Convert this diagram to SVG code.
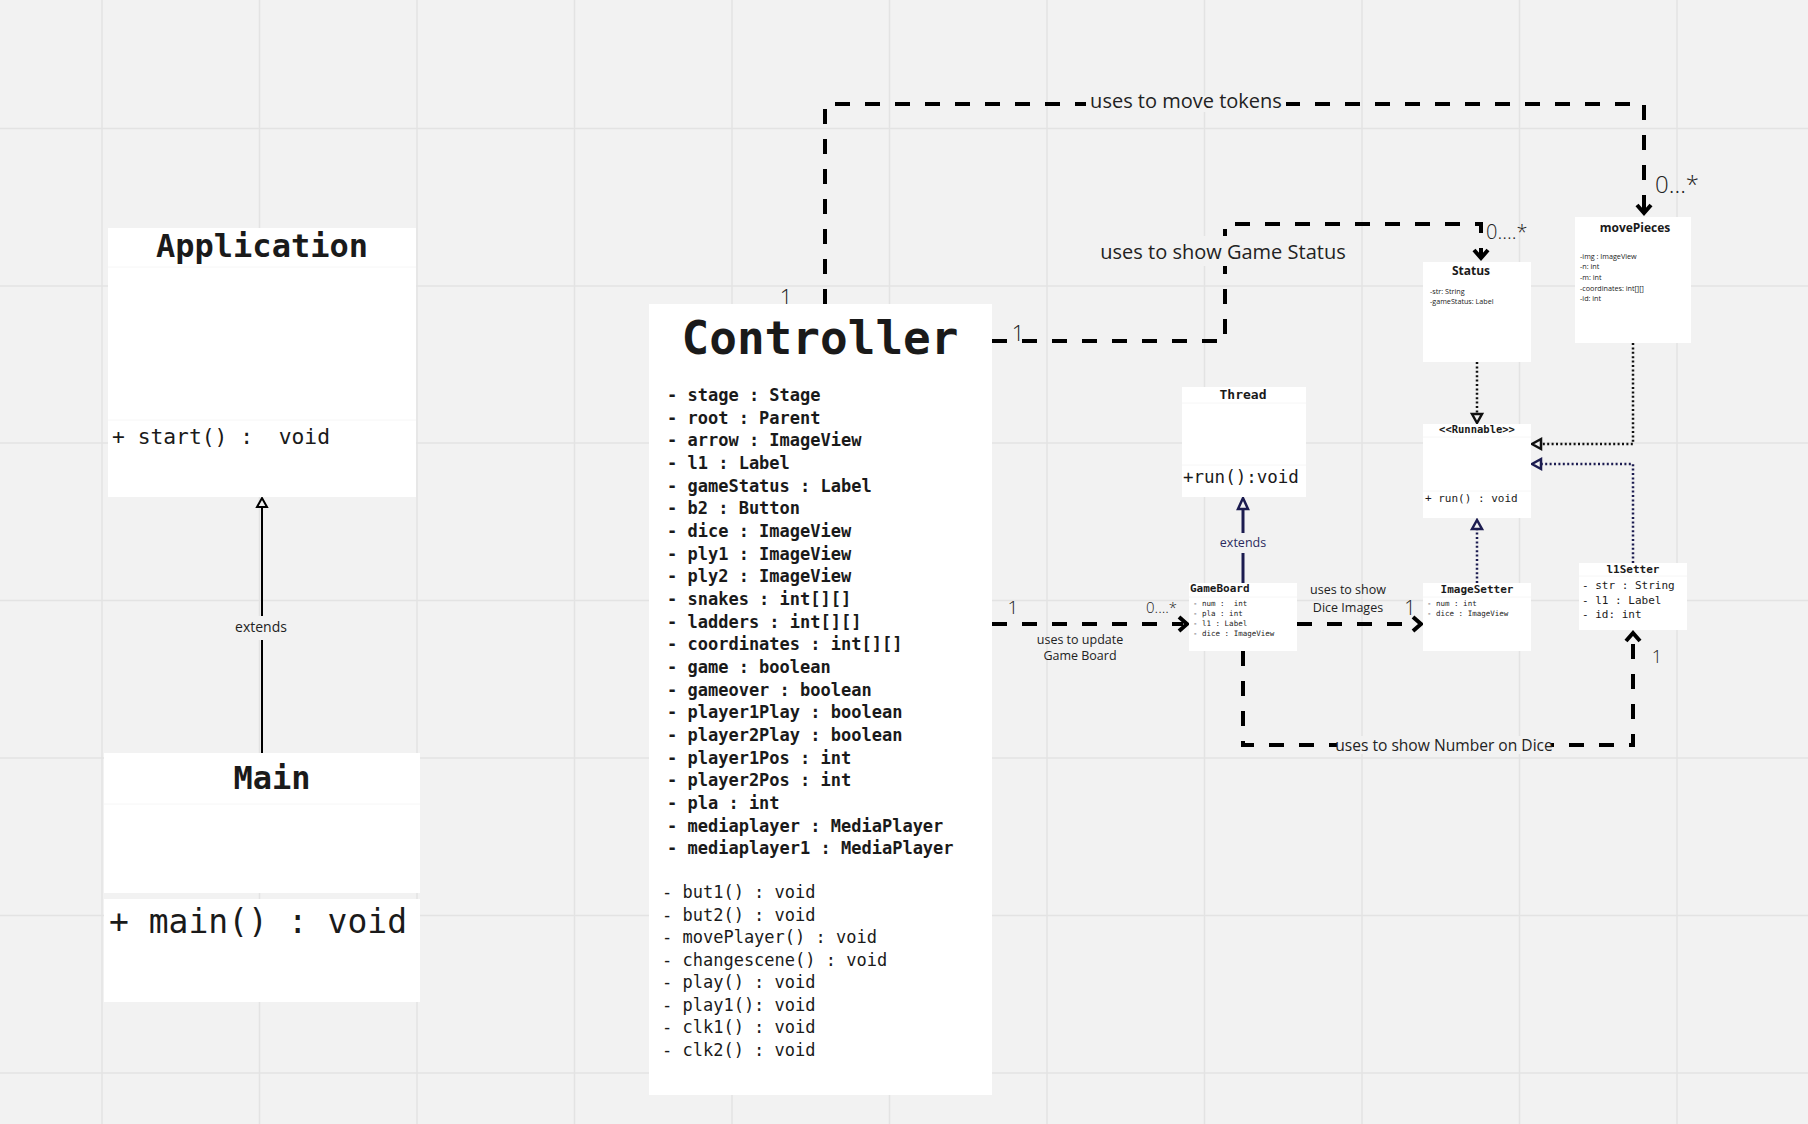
<svg xmlns="http://www.w3.org/2000/svg" width="1808" height="1124" viewBox="0 0 1808 1124">
<style>
.grid{stroke:#e3e3e3;stroke-width:1.5}
.box{fill:#ffffff}
.div{stroke:#f6f6f6;stroke-width:1}
.mono{font-family:"DejaVu Sans Mono","Liberation Mono",monospace;fill:#1a1a1a;white-space:pre}
.monob{font-family:"DejaVu Sans Mono","Liberation Mono",monospace;font-weight:bold;fill:#1a1a1a;white-space:pre}
.sans{font-family:"Open Sans","Noto Sans",sans-serif;fill:#1a1a1a}
.sansb{font-family:"Open Sans","Noto Sans",sans-serif;font-weight:bold;fill:#1a1a1a}
.dash{fill:none;stroke:#000;stroke-width:4;stroke-dasharray:15 15}
.head{fill:none;stroke:#000;stroke-width:4;stroke-linejoin:miter}
.dotk{fill:none;stroke:#111;stroke-width:2.5;stroke-dasharray:2 2.4}
.dotn{fill:none;stroke:#1c1c50;stroke-width:2.5;stroke-dasharray:2 2.4}
.lbl{font-family:"Open Sans","Noto Sans",sans-serif;fill:#222}
.bg{fill:#f2f2f2}
</style>
<rect x="0" y="0" width="1808" height="1124" fill="#f2f2f2"/>
<g id="grid">
<path class="grid" d="M102 0V1124M259.5 0V1124M417 0V1124M574.5 0V1124M732 0V1124M889.5 0V1124M1047 0V1124M1204.5 0V1124M1362 0V1124M1519.5 0V1124M1677 0V1124M0 128.5H1808M0 286H1808M0 443H1808M0 600.5H1808M0 758H1808M0 915.5H1808M0 1073H1808"/>
</g>

<g id="connectors">
<!-- Main extends Application -->
<path d="M262 753V507" stroke="#000" stroke-width="2" fill="none"/>
<path d="M257 507L262 498L267 507Z" fill="#f2f2f2" stroke="#000" stroke-width="2"/>
<rect class="bg" x="230" y="616" width="64" height="24"/>
<text class="lbl" x="261" y="632" font-size="14" text-anchor="middle">extends</text>

<!-- GameBoard extends Thread -->
<path d="M1243 583V509" stroke="#1c1c50" stroke-width="3" fill="none"/>
<path d="M1238 509L1243 498L1248 509Z" fill="#f2f2f2" stroke="#1c1c50" stroke-width="2.5"/>
<rect class="bg" x="1218" y="533" width="50" height="20"/>
<text x="1243" y="547" font-size="12.5" text-anchor="middle" font-family="Open Sans, Noto Sans, sans-serif" fill="#2a2a5e">extends</text>

<!-- uses to move tokens -->
<path class="dash" d="M825 304V104H1644V212"/>
<path class="head" d="M1637 205L1644 213L1651 205"/>
<rect class="bg" x="1086" y="96" width="200" height="16"/>
<text class="lbl" x="1186" y="108" font-size="20" text-anchor="middle">uses to move tokens</text>
<text class="lbl" x="786" y="305" font-size="22" text-anchor="middle" font-weight="300">1</text>
<text class="lbl" x="1655" y="193" font-size="24" font-weight="300">0...*</text>

<!-- uses to show Game Status -->
<path class="dash" d="M992 341H1225V224H1481V257"/>
<path class="head" d="M1474 250L1481 258L1488 250"/>
<rect class="bg" x="1100" y="236" width="248" height="30"/>
<text class="lbl" x="1223" y="259" font-size="20" text-anchor="middle">uses to show Game Status</text>
<text class="lbl" x="1018" y="341" font-size="22" text-anchor="middle" font-weight="300">1</text>
<text class="lbl" x="1486" y="239" font-size="20" font-weight="300">0....*</text>

<!-- uses to update Game Board -->
<path class="dash" d="M992 624H1183"/>
<path class="head" d="M1179 617L1187 624L1179 631"/>
<text class="lbl" x="1080" y="644" font-size="12.5" text-anchor="middle">uses to update</text>
<text class="lbl" x="1080" y="660" font-size="12.5" text-anchor="middle">Game Board</text>
<text class="lbl" x="1013" y="614" font-size="19" text-anchor="middle" font-weight="300">1</text>
<text class="lbl" x="1146" y="613" font-size="15" font-weight="300">0....*</text>

<!-- uses to show Dice Images -->
<path class="dash" d="M1297 624H1417"/>
<path class="head" d="M1413 617L1421 624L1413 631"/>
<text class="lbl" x="1348" y="594" font-size="12.5" text-anchor="middle">uses to show</text>
<text class="lbl" x="1348" y="612" font-size="12.5" text-anchor="middle">Dice Images</text>
<text class="lbl" x="1410" y="615" font-size="20" text-anchor="middle" font-weight="300">1</text>

<!-- uses to show Number on Dice -->
<path class="dash" d="M1243 651V745H1633V636"/>
<path class="head" d="M1626 641L1633 633L1640 641"/>
<rect class="bg" x="1337" y="736" width="214" height="18"/>
<text class="lbl" x="1444" y="751" font-size="15.6" text-anchor="middle">uses to show Number on Dice</text>
<text class="lbl" x="1657" y="663" font-size="18" text-anchor="middle" font-weight="300">1</text>

<!-- Status implements Runnable -->
<path class="dotk" d="M1477 362V414"/>
<path d="M1472 414L1477 423L1482 414Z" fill="#f2f2f2" stroke="#111" stroke-width="2.5"/>
<!-- ImageSetter implements Runnable -->
<path class="dotn" d="M1477 583V529"/>
<path d="M1472 529L1477 520L1482 529Z" fill="#f2f2f2" stroke="#1c1c50" stroke-width="2.5"/>
<!-- movePieces implements Runnable -->
<path class="dotk" d="M1633 343V444H1541"/>
<path d="M1541 439L1532 444L1541 449Z" fill="#f2f2f2" stroke="#111" stroke-width="2.5"/>
<!-- l1Setter implements Runnable -->
<path class="dotn" d="M1633 563V464H1541"/>
<path d="M1541 459L1532 464L1541 469Z" fill="#f2f2f2" stroke="#1c1c50" stroke-width="2.5"/>
</g>

<g id="Application">
<rect class="box" x="108" y="228" width="308" height="269"/>
<line class="div" x1="108" y1="267" x2="416" y2="267"/>
<line class="div" x1="108" y1="420" x2="416" y2="420"/>
<text class="monob" x="262" y="257" font-size="32" text-anchor="middle">Application</text>
<text class="mono" x="112" y="444" font-size="21.3">+ start() :  void</text>
</g>

<g id="Main">
<rect class="box" x="104" y="753" width="316" height="140"/>
<line class="div" x1="104" y1="804" x2="420" y2="804"/>
<rect class="box" x="104" y="899" width="316" height="103"/>
<text class="monob" x="272" y="789" font-size="32" text-anchor="middle">Main</text>
<text class="mono" x="109" y="933" font-size="33">+ main() : void</text>
</g>

<g id="Controller">
<rect class="box" x="649" y="304" width="343" height="791"/>
<text class="monob" x="820" y="354" font-size="46" text-anchor="middle">Controller</text>
<text class="monob" font-size="17">
<tspan x="667" y="401">- stage : Stage</tspan>
<tspan x="667" dy="22.66">- root : Parent</tspan>
<tspan x="667" dy="22.66">- arrow : ImageView</tspan>
<tspan x="667" dy="22.66">- l1 : Label</tspan>
<tspan x="667" dy="22.66">- gameStatus : Label</tspan>
<tspan x="667" dy="22.66">- b2 : Button</tspan>
<tspan x="667" dy="22.66">- dice : ImageView</tspan>
<tspan x="667" dy="22.66">- ply1 : ImageView</tspan>
<tspan x="667" dy="22.66">- ply2 : ImageView</tspan>
<tspan x="667" dy="22.66">- snakes : int[][]</tspan>
<tspan x="667" dy="22.66">- ladders : int[][]</tspan>
<tspan x="667" dy="22.66">- coordinates : int[][]</tspan>
<tspan x="667" dy="22.66">- game : boolean</tspan>
<tspan x="667" dy="22.66">- gameover : boolean</tspan>
<tspan x="667" dy="22.66">- player1Play : boolean</tspan>
<tspan x="667" dy="22.66">- player2Play : boolean</tspan>
<tspan x="667" dy="22.66">- player1Pos : int</tspan>
<tspan x="667" dy="22.66">- player2Pos : int</tspan>
<tspan x="667" dy="22.66">- pla : int</tspan>
<tspan x="667" dy="22.66">- mediaplayer : MediaPlayer</tspan>
<tspan x="667" dy="22.66">- mediaplayer1 : MediaPlayer</tspan>
</text>
<text class="mono" font-size="17" fill="#2a2a2a">
<tspan x="662" y="898">- but1() : void</tspan>
<tspan x="662" dy="22.5">- but2() : void</tspan>
<tspan x="662" dy="22.5">- movePlayer() : void</tspan>
<tspan x="662" dy="22.5">- changescene() : void</tspan>
<tspan x="662" dy="22.5">- play() : void</tspan>
<tspan x="662" dy="22.5">- play1(): void</tspan>
<tspan x="662" dy="22.5">- clk1() : void</tspan>
<tspan x="662" dy="22.5">- clk2() : void</tspan>
</text>
</g>

<g id="Thread">
<rect class="box" x="1182" y="387" width="124" height="110"/>
<line class="div" x1="1182" y1="403" x2="1306" y2="403"/>
<line class="div" x1="1182" y1="465" x2="1306" y2="465"/>
<text class="monob" x="1243" y="399" font-size="13" text-anchor="middle">Thread</text>
<text class="mono" x="1183" y="483" font-size="17.5">+run():void</text>
</g>

<g id="GameBoard">
<rect class="box" x="1189" y="583" width="108" height="68"/>
<line class="div" x1="1189" y1="597" x2="1297" y2="597"/>
<text class="monob" x="1190" y="592" font-size="11">GameBoard</text>
<text class="mono" font-size="7.5" fill="#333">
<tspan x="1193" y="606">- num :  int</tspan>
<tspan x="1193" y="616">- pla : int</tspan>
<tspan x="1193" y="626">- l1 : Label</tspan>
<tspan x="1193" y="636">- dice : ImageView</tspan>
</text>
</g>

<g id="ImageSetter">
<rect class="box" x="1423" y="583" width="108" height="68"/>
<line class="div" x1="1423" y1="597" x2="1531" y2="597"/>
<text class="monob" x="1477" y="593" font-size="11" text-anchor="middle">ImageSetter</text>
<text class="mono" font-size="7.5" fill="#333">
<tspan x="1427" y="606">- num : int</tspan>
<tspan x="1427" y="616">- dice : ImageView</tspan>
</text>
</g>

<g id="Runnable">
<rect class="box" x="1423" y="424" width="108" height="94"/>
<line class="div" x1="1423" y1="437" x2="1531" y2="437"/>
<line class="div" x1="1423" y1="491" x2="1531" y2="491"/>
<text class="monob" x="1477" y="433" font-size="10.5" text-anchor="middle">&lt;&lt;Runnable&gt;&gt;</text>
<text class="mono" x="1425" y="502" font-size="11">+ run() : void</text>
</g>

<g id="Status">
<rect class="box" x="1423" y="262" width="108" height="100"/>
<text class="sansb" x="1471" y="275" font-size="12" text-anchor="middle">Status</text>
<text class="sans" font-size="7.2" fill="#555">
<tspan x="1430" y="294">-str: String</tspan>
<tspan x="1430" y="304">-gameStatus: Label</tspan>
</text>
</g>

<g id="movePieces">
<rect class="box" x="1575" y="217" width="116" height="126"/>
<text class="sansb" x="1635" y="232" font-size="12" text-anchor="middle">movePieces</text>
<text class="sans" font-size="7.2" fill="#555">
<tspan x="1580" y="259">-img : ImageView</tspan>
<tspan x="1580" y="269">-n: int</tspan>
<tspan x="1580" y="280">-m: int</tspan>
<tspan x="1580" y="291">-coordinates: int[][]</tspan>
<tspan x="1580" y="301">-id: int</tspan>
</text>
</g>

<g id="l1Setter">
<rect class="box" x="1579" y="563" width="108" height="67"/>
<line class="div" x1="1579" y1="576" x2="1687" y2="576"/>
<text class="monob" x="1633" y="573" font-size="11" text-anchor="middle">l1Setter</text>
<text class="mono" font-size="11">
<tspan x="1582" y="589">- str : String</tspan>
<tspan x="1582" y="604">- l1 : Label</tspan>
<tspan x="1582" y="618">- id: int</tspan>
</text>
</g>
</svg>
